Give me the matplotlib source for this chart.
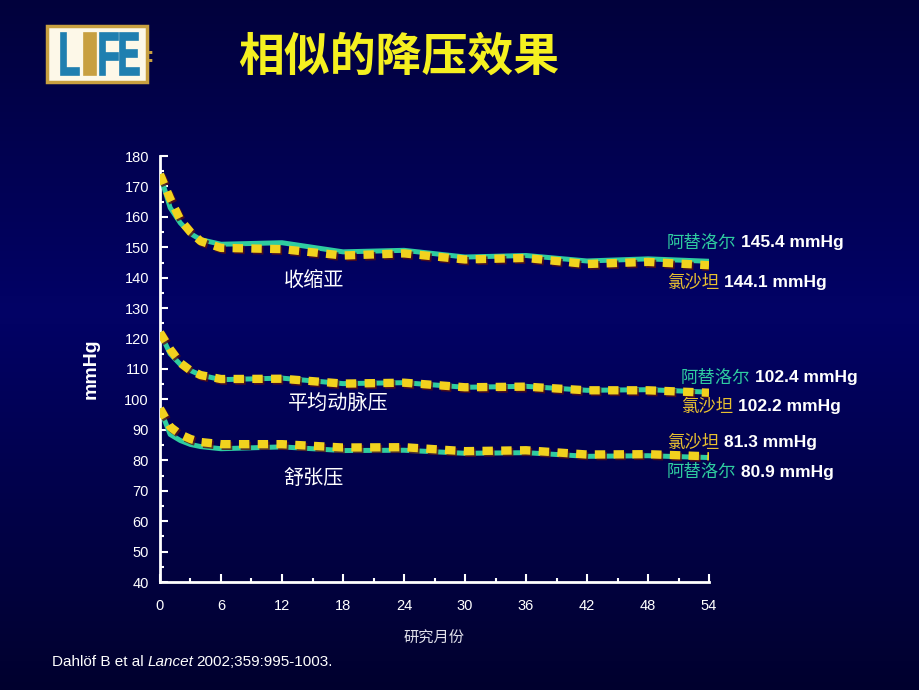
import numpy as np
import matplotlib
matplotlib.use("Agg")
import matplotlib.pyplot as plt
from matplotlib.patches import Rectangle, PathPatch
from matplotlib.textpath import TextPath
from matplotlib.font_manager import FontProperties
from matplotlib.transforms import Affine2D, IdentityTransform
import matplotlib.patheffects as pe

plt.rcParams['font.family'] = ['Liberation Sans', 'Noto Sans CJK SC', 'DejaVu Sans']

# ---- data ----
months = [0, 1, 2, 3, 4, 6, 12, 18, 24, 30, 36, 42, 48, 54]
sys_atenolol = [174, 163, 158, 154.5, 152.5, 151, 151.5, 148.5, 149, 146.8, 147.3, 145.5, 146.2, 145.4]
sys_losartan = [174, 166, 159, 155, 152, 149.8, 149.4, 147.3, 148, 146, 146.5, 144.5, 145.2, 144.1]
map_atenolol = [122, 115, 111.5, 109.5, 108, 106.5, 107, 105.2, 105.5, 104, 104.3, 103, 103.2, 102.4]
map_losartan = [122, 116.5, 112, 109.5, 108, 106.7, 106.8, 105.2, 105.5, 104, 104.2, 103, 103, 102.2]
dia_atenolol = [97, 88.5, 86.5, 85.2, 84.5, 83.8, 84.4, 83.2, 83.3, 82.3, 82.5, 81.3, 81.5, 80.9]
dia_losartan = [97, 91, 88.5, 87, 86, 85.3, 85.3, 84.2, 84.3, 83, 83.3, 81.9, 82, 81.3]
x_ticks = [0, 6, 12, 18, 24, 30, 36, 42, 48, 54]
y_ticks = [40, 50, 60, 70, 80, 90, 100, 110, 120, 130, 140, 150, 160, 170, 180]

TEAL = '#2fcca0'
GOLD = '#f2d21e'
GOLD_TXT = '#e8c030'

W, H = 920, 690
fig = plt.figure(figsize=(9.2, 6.9), dpi=100)

# background gradient
bg = fig.add_axes([0, 0, 1, 1], zorder=-10)
t = np.linspace(0, 1, 256)[:, None]
prof = np.interp(t, [0, 0.45, 1.0], [0x3c, 0x66, 0x2e])
img = np.zeros((256, 2, 3))
img[..., 2] = prof / 255.0
img[..., 0] = prof * 0.02 / 255.0
img[..., 1] = prof * 0.02 / 255.0
bg.imshow(img, aspect='auto', extent=[0, 1, 0, 1], origin='upper')
bg.set_axis_off()

ax = fig.add_axes([160/W, 1-582/H, (709-160)/W, (582-156)/H])
ax.set_facecolor('none')
ax.set_xlim(0, 54)
ax.set_ylim(40, 180)

shadow = [pe.SimpleLineShadow(offset=(1.2, -1.2), shadow_color='#5a1010', alpha=0.8), pe.Normal()]

for a, l in [(sys_atenolol, sys_losartan), (map_atenolol, map_losartan), (dia_atenolol, dia_losartan)]:
    ax.plot(months, a, color=TEAL, lw=3.6, solid_capstyle='butt', zorder=3)
    ax.plot(months, l, color=GOLD, lw=6, dashes=(1.25, 1.0), dash_capstyle='butt',
            zorder=4, path_effects=shadow)

for s in ['top', 'right']:
    ax.spines[s].set_visible(False)
for s in ['left', 'bottom']:
    ax.spines[s].set_color('white')
    ax.spines[s].set_linewidth(2)

ax.set_xticks(x_ticks)
ax.set_yticks(y_ticks)
ax.set_xticks(np.arange(3, 54, 6), minor=True)
ax.set_yticks(np.arange(45, 180, 10), minor=True)
ax.tick_params(axis='both', which='major', direction='in', colors='white', labelsize=10.5, width=1.5, length=6)
ax.tick_params(axis='both', which='minor', direction='in', colors='white', width=1.5, length=3)
ax.tick_params(axis='x', pad=12)
ax.tick_params(axis='y', pad=8)
ax.set_ylabel('mmHg', color='white', fontsize=14, fontweight='bold', labelpad=18)
ax.set_xlabel('研究月份', color='#e0e0ea', fontsize=11, labelpad=12, family=['Noto Sans CJK SC'])

# curve names
for txt, xx, yy in [('收缩亚', 314, 280), ('平均动脉压', 338, 403), ('舒张压', 314, 478)]:
    fig.text(xx/W, 1-yy/H, txt, color='white', fontsize=14.5, ha='center', va='center',
             family=['Noto Sans CJK SC'])

fig.canvas.draw()

# end labels
def end_label(x, y, drug, col, val):
    t1 = fig.text(x/W, 1-y/H, drug, color=col, fontsize=12.5, ha='left', va='center',
                  family=['Noto Sans CJK SC'])
    fig.canvas.draw()
    bb = t1.get_window_extent()
    fig.text((bb.x1 + 5)/W, 1-y/H, val, color='white', fontsize=12.5, fontweight='bold',
             ha='left', va='center')

end_label(667, 243, '阿替洛尔', TEAL, '145.4 mmHg')
end_label(667, 283, '氯沙坦', GOLD_TXT, '144.1 mmHg')
end_label(681, 378, '阿替洛尔', TEAL, '102.4 mmHg')
end_label(681, 407, '氯沙坦', GOLD_TXT, '102.2 mmHg')
end_label(667, 443, '氯沙坦', GOLD_TXT, '81.3 mmHg')
end_label(667, 472, '阿替洛尔', TEAL, '80.9 mmHg')

# title
fig.text(238/W, 1-58/H, '相似的降压效果', color='#f5f020', fontsize=33, fontweight='bold',
         ha='left', va='center', family=['Noto Sans CJK SC'])

# LIFE logo
fig.patches.append(Rectangle((47/W, 1-82/H), (147-47)/W, (82-26)/H, transform=fig.transFigure,
                             facecolor='#fdf8e8', edgecolor='#c8a040', linewidth=2.5, zorder=5))
fp = FontProperties(family='Liberation Sans', weight='bold')
for ch, x0, wdt, col in [('L', 61, 18, '#1f7fb0'), ('I', 84, 12, '#c8a040'),
                         ('F', 100, 18, '#1f7fb0'), ('E', 120, 19, '#1f7fb0')]:
    tp = TextPath((0, 0), ch, size=60, prop=fp)
    ext = tp.get_extents()
    sx = wdt / ext.width
    sy = 42 / ext.height
    tr = Affine2D().translate(-ext.x0, -ext.y0).scale(sx, sy).translate(x0, H - 75)
    p = tr.transform_path(tp)
    fig.patches.append(PathPatch(p, transform=IdentityTransform(), facecolor=col,
                                 edgecolor=col, linewidth=1.2, zorder=6))
fig.text(151/W, 1-56/H, ':', color='#c8a040', fontsize=16, fontweight='bold', ha='center', va='center')

# citation
y_c = 1-662/H
c1 = fig.text(52/W, y_c, 'Dahlöf B et al ', color='white', fontsize=11, ha='left', va='center')
fig.canvas.draw()
b1 = c1.get_window_extent()
c2 = fig.text(b1.x1/W, y_c, 'Lancet', color='white', fontsize=11, style='italic', ha='left', va='center')
fig.canvas.draw()
b2 = c2.get_window_extent()
fig.text((b2.x1 + 3)/W, y_c, '2002;359:995-1003.', color='white', fontsize=11, ha='left', va='center')

fig.savefig('out.png', dpi=100)
